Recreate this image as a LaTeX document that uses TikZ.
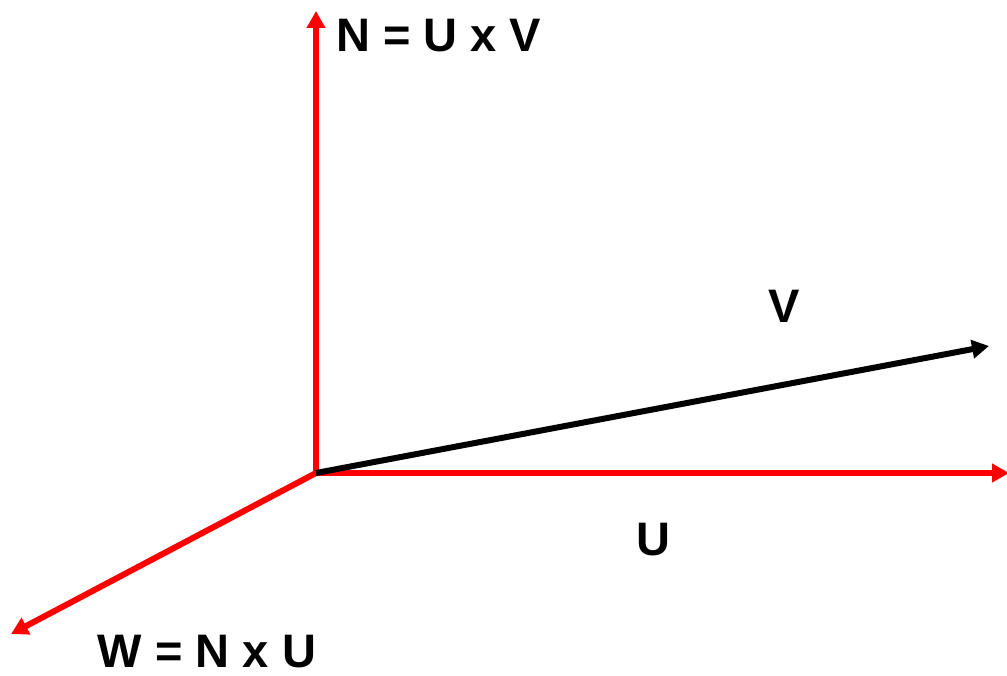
\documentclass[tikz,border=0pt]{standalone}
\usepackage{fontspec}
\setmainfont{Liberation Sans}
\usetikzlibrary{arrows.meta}

\tikzset{
  vec/.style={line width=6pt, -{Triangle[length=17pt,width=18pt]}},
  lbl/.style={font=\bfseries\fontsize{47}{47}\selectfont, inner sep=0pt}
}

\begin{document}
\begin{tikzpicture}[x=1pt,y=-1pt]
  \useasboundingbox (0,0) rectangle (1007,676);
  \coordinate (O) at (316,473);
  \coordinate (n) at (316,11);
  \coordinate (u) at (1009,473);
  \coordinate (v) at (989,346);
  \coordinate (w) at (11,634);
  % axes in red, the V vector in black
  \draw[vec, red] (O) -- (n);
  \draw[vec, red] (O) -- (u);
  \draw[vec, red] (O) -- (w);
  \draw[vec, black] (O) -- (v);
  \node[lbl, anchor=west] (nlab) at (336,36) {N = U x V};
  \node[lbl] (vlab) at (784,306) {V};
  \node[lbl] (ulab) at (653,540) {U};
  \node[lbl] (wlab) at (207,652) {W = N x U};
\end{tikzpicture}
\end{document}
